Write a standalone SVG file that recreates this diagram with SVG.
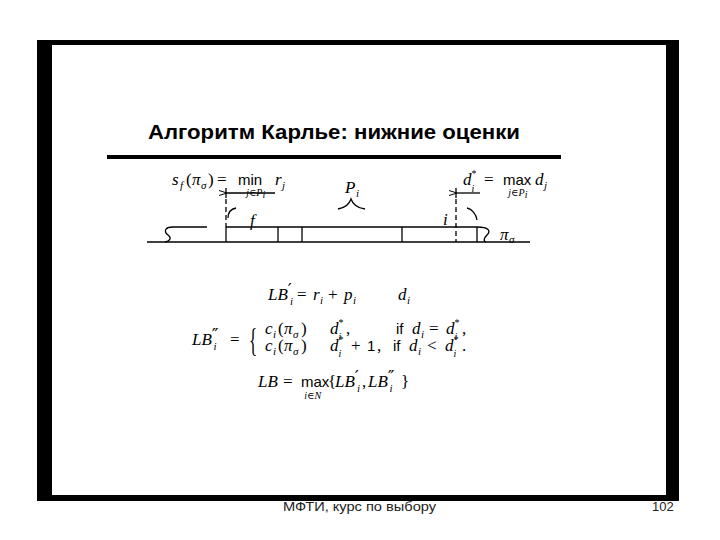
<svg xmlns="http://www.w3.org/2000/svg" width="720" height="540" viewBox="0 0 720 540">
<defs>
<style>
.m{font-family:"Liberation Serif","DejaVu Serif",serif;font-style:italic;font-size:17px;fill:#000}
.r{font-family:"Liberation Serif","DejaVu Serif",serif;font-size:17px;fill:#000}
.s{font-family:"Liberation Sans","DejaVu Sans",sans-serif;font-size:15px;fill:#000}
.sb{font-size:11px}
.tn{font-size:10px}
.st{font-family:"Liberation Serif","DejaVu Serif",serif;font-style:normal;font-size:10px}
.it{font-family:"Liberation Serif","DejaVu Serif",serif;font-style:italic;font-size:10px}
.pr{font-family:"DejaVu Sans",sans-serif;font-style:normal;font-size:18px}
.ln{stroke:#000;stroke-width:1.3;fill:none}
.dash{stroke:#000;stroke-width:1.3;stroke-dasharray:5 3;fill:none}
.foot{font-family:"Liberation Sans","DejaVu Sans",sans-serif;font-size:13px;fill:#222}
</style>
<marker id="ah" viewBox="0 0 8 6" refX="0" refY="3" markerWidth="8" markerHeight="6" markerUnits="userSpaceOnUse" orient="auto">
<path d="M8,0.5 L0,3 L8,5.5" fill="none" stroke="#000" stroke-width="1"/>
</marker>
</defs>
<rect width="720" height="540" fill="#fff"/>
<g id="frame">
<path d="M37,40 H679 V501 H37 Z M52,45 V495 H666 V45 Z" fill="#000" fill-rule="evenodd"/>
</g>
<g id="title">
<text x="148" y="139" font-family="Liberation Sans, DejaVu Sans, sans-serif" font-weight="bold" font-size="20" textLength="372" lengthAdjust="spacingAndGlyphs">Алгоритм Карлье: нижние оценки</text>
<rect x="107" y="155" width="454" height="4" fill="#000"/>
</g>
<g id="top-formulas">
<text class="m" x="172" y="185">s</text>
<text class="m sb" x="180" y="189">f</text>
<text class="r" x="186" y="185">(</text>
<text class="m" x="192" y="185">π</text>
<text class="m sb" x="201" y="189">σ</text>
<text class="r" x="208" y="185">)</text>
<text class="r" x="217" y="185">=</text>
<text class="s" x="238" y="185">min<tspan class="it" dx="-16" dy="11">j∈P</tspan><tspan class="it" font-size="8" dy="2">i</tspan></text>
<text class="m" x="275" y="185">r</text>
<text class="m sb" x="282" y="189">j</text>
<text class="m" x="463" y="185">d<tspan class="st" dy="-8">*</tspan><tspan class="it" dx="-5" dy="15">i</tspan></text>
<text class="r" x="484" y="185">=</text>
<text class="s" x="503" y="185">max<tspan class="it" dx="-23" dy="11">j∈P</tspan><tspan class="it" font-size="8" dy="2">i</tspan></text>
<text class="m" x="535" y="185">d</text>
<text class="m sb" x="544" y="189">j</text>
</g>
<g id="timeline">
<line class="ln" x1="147" y1="242" x2="530" y2="242"/>
<line class="ln" x1="226" y1="227" x2="477" y2="227"/>
<line class="ln" x1="173" y1="227" x2="207" y2="227"/>
<path class="ln" d="M173,227 C164,227 164,232 168,235 C172,238 170,241 165,242"/>
<path class="ln" d="M477,227 C489,227 491,231 487,235 C484,238 483,241 486,242"/>
<line class="ln" x1="226" y1="227" x2="226" y2="242"/>
<line class="ln" x1="278" y1="227" x2="278" y2="242"/>
<line class="ln" x1="302" y1="227" x2="302" y2="242"/>
<line class="ln" x1="402" y1="227" x2="402" y2="242"/>
<line class="ln" x1="477" y1="227" x2="477" y2="242"/>
<line class="dash" x1="226" y1="199" x2="226" y2="227"/>
<line class="dash" x1="456" y1="199" x2="456" y2="242"/>
<text class="m" x="250" y="226" font-size="15">f</text>
<text class="m" x="443" y="225" font-size="14">i</text>
<text class="m" x="500" y="240" font-size="14">π</text>
<text class="m sb" x="509" y="243">σ</text>
<text class="m" x="345" y="193">P</text>
<text class="m sb" x="356" y="197">i</text>
<path class="ln" d="M338,209 C344,208 349,205 351,199 C353,205 358,208 365,209"/>
<path class="ln" d="M228,218 C228,213 231,209 236,208"/>
<path class="ln" d="M467,208 C472,209 476,214 477,220"/>
</g>
<g id="connectors">
<line class="ln" x1="226" y1="188" x2="226" y2="198"/>
<line class="ln" x1="275" y1="193" x2="227" y2="193" marker-end="url(#ah)"/>
<line class="ln" x1="456" y1="188" x2="456" y2="198"/>
<line class="ln" x1="480" y1="193" x2="457" y2="193" marker-end="url(#ah)"/>
</g>
<g id="formulas">
<text class="m" x="268" y="300">LB<tspan class="pr" dy="-4">′</tspan><tspan font-size="11" dx="-2" dy="9">i</tspan></text>
<text class="r" x="297" y="300">=</text>
<text class="m" x="313" y="300">r</text>
<text class="m sb" x="320" y="304">i</text>
<text class="r" x="328" y="300">+</text>
<text class="m" x="344" y="300">p</text>
<text class="m sb" x="353" y="304">i</text>
<text class="m" x="398" y="300">d</text>
<text class="m sb" x="407" y="304">i</text>

<text class="m" x="192" y="345">LB<tspan class="pr" dy="-4">″</tspan><tspan font-size="11" dx="-5" dy="9">i</tspan></text>
<text class="r" x="230" y="345">=</text>
<text class="r" transform="translate(249,351) scale(1,2)" font-size="24">{</text>

<text class="m" x="265" y="334">c</text>
<text class="m sb" x="273" y="338">i</text>
<text class="r" x="278" y="334">(</text>
<text class="m" x="284" y="334">π</text>
<text class="m sb" x="293" y="338">σ</text>
<text class="r" x="301" y="334">)</text>
<text class="m" x="330" y="334">d<tspan class="st" dy="-8">*</tspan><tspan class="it" dx="-5" dy="14">i</tspan></text>
<text class="r" x="346" y="334">,</text>
<text class="s" x="396" y="334" font-size="14">if</text>
<text class="m" x="412" y="334">d</text>
<text class="m sb" x="421" y="338">i</text>
<text class="r" x="429" y="334">=</text>
<text class="m" x="446" y="334">d<tspan class="st" dy="-8">*</tspan><tspan class="it" dx="-5" dy="14">i</tspan></text>
<text class="r" x="462" y="334">,</text>

<text class="m" x="265" y="351">c</text>
<text class="m sb" x="273" y="355">i</text>
<text class="r" x="278" y="351">(</text>
<text class="m" x="284" y="351">π</text>
<text class="m sb" x="293" y="355">σ</text>
<text class="r" x="301" y="351">)</text>
<text class="m" x="330" y="351">d<tspan class="st" dy="-8">*</tspan><tspan class="it" dx="-5" dy="14">i</tspan></text>
<text class="r" x="351" y="351">+</text>
<text class="s" x="367" y="351">1</text>
<text class="r" x="377" y="351">,</text>
<text class="s" x="393" y="351" font-size="14">if</text>
<text class="m" x="409" y="351">d</text>
<text class="m sb" x="418" y="355">i</text>
<text class="r" x="427" y="351">&lt;</text>
<text class="m" x="445" y="351">d<tspan class="st" dy="-8">*</tspan><tspan class="it" dx="-5" dy="14">i</tspan></text>
<text class="r" x="462" y="351">.</text>

<text class="m" x="258" y="387">LB</text>
<text class="r" x="283" y="387">=</text>
<text class="s" x="301" y="387">max<tspan class="it" dx="-25" dy="12">i∈N</tspan></text>
<text class="r" x="328" y="387">{</text>
<text class="m" x="335" y="387">LB<tspan class="pr" dy="-4">′</tspan><tspan font-size="11" dx="-2" dy="9">i</tspan></text>
<text class="r" x="362" y="387">,</text>
<text class="m" x="368" y="387">LB<tspan class="pr" dy="-4">″</tspan><tspan font-size="11" dx="-5" dy="9">i</tspan></text>
<text class="r" x="401" y="387">}</text>
</g>
<g id="footer">
<text class="foot" x="283" y="511" textLength="153" lengthAdjust="spacingAndGlyphs">МФТИ, курс по выбору</text>
<text class="foot" x="652" y="511">102</text>
</g>
</svg>
